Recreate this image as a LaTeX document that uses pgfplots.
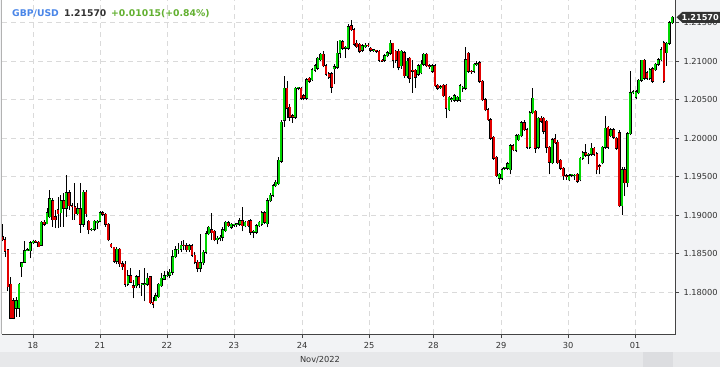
\documentclass[border=0pt]{standalone}
\usepackage{pgfplots}
\pgfplotsset{compat=1.18}
\usepackage{pgfplotstable}
\usepackage{fontspec}
\setmainfont{DejaVu Sans}
\definecolor{cgreen}{RGB}{0,214,0}
\definecolor{cred}{RGB}{226,0,0}
\definecolor{bgray}{HTML}{F2F3F5}
\definecolor{bandgray}{HTML}{E7E8EA}
\definecolor{thumbgray}{HTML}{DCDDE0}
\definecolor{gridgray}{HTML}{DADADA}
\definecolor{axisgray}{HTML}{444444}
\definecolor{txtgray}{HTML}{333333}
\definecolor{titleblue}{HTML}{4A86E8}
\definecolor{titlegreen}{HTML}{62B030}
\definecolor{tagdark}{HTML}{333333}

\pgfplotstableread{
k o h l c
-11 1.1872 1.1888 1.1866 1.1868
-10 1.1868 1.1872 1.1846 1.1853
-9 1.1855 1.1856 1.1801 1.1807
-8 1.1810 1.1820 1.1765 1.1766
-7 1.1789 1.1792 1.1765 1.1766
-6 1.1779 1.1794 1.1768 1.1789
-5 1.1779 1.1812 1.1768 1.1810
-4 1.1833 1.1839 1.1820 1.1838
-3 1.1839 1.1866 1.1838 1.1854
-2 1.1854 1.1857 1.1853 1.1855
-1 1.1854 1.1866 1.1844 1.1864
0 1.1864 1.1868 1.1862 1.1866
1 1.1866 1.1868 1.1864 1.1865
2 1.1865 1.1866 1.1859 1.1859
3 1.1861 1.1892 1.1860 1.1891
4 1.1891 1.1894 1.1886 1.1888
5 1.1889 1.1909 1.1888 1.1903
6 1.1898 1.1933 1.1896 1.1921
7 1.1919 1.1922 1.1885 1.1894
8 1.1898 1.1907 1.1883 1.1894
9 1.1907 1.1924 1.1883 1.1902
10 1.1903 1.1926 1.1885 1.1919
11 1.1919 1.1929 1.1885 1.1909
12 1.1909 1.1952 1.1898 1.1929
13 1.1929 1.1933 1.1907 1.1912
14 1.1912 1.1916 1.1894 1.1911
15 1.1911 1.1942 1.1894 1.1902
16 1.1902 1.1916 1.1900 1.1908
17 1.1908 1.1942 1.1877 1.1888
18 1.1888 1.1933 1.1885 1.1930
19 1.1930 1.1933 1.1898 1.1902
20 1.1892 1.1894 1.1875 1.1881
21 1.1881 1.1883 1.1879 1.1882
22 1.1882 1.1894 1.1879 1.1892
23 1.1890 1.1894 1.1882 1.1892
24 1.1892 1.1905 1.1891 1.1903
25 1.1903 1.1905 1.1899 1.1901
26 1.1901 1.1903 1.1885 1.1888
27 1.1888 1.1890 1.1866 1.1868
28 1.1862 1.1864 1.1857 1.1859
29 1.1858 1.1859 1.1838 1.1840
30 1.1840 1.1859 1.1836 1.1856
31 1.1856 1.1857 1.1833 1.1837
32 1.1837 1.1840 1.1829 1.1833
33 1.1836 1.1840 1.1807 1.1810
34 1.1810 1.1829 1.1808 1.1821
35 1.1821 1.1831 1.1812 1.1813
36 1.1808 1.1816 1.1792 1.1806
37 1.1808 1.1822 1.1805 1.1820
38 1.1820 1.1829 1.1805 1.1810
39 1.1810 1.1812 1.1795 1.1811
40 1.1810 1.1831 1.1788 1.1811
41 1.1810 1.1825 1.1808 1.1818
42 1.1820 1.1821 1.1784 1.1786
43 1.1787 1.1794 1.1779 1.1784
44 1.1789 1.1799 1.1788 1.1795
45 1.1794 1.1812 1.1793 1.1810
46 1.1808 1.1825 1.1807 1.1818
47 1.1817 1.1827 1.1816 1.1821
48 1.1821 1.1827 1.1820 1.1822
49 1.1822 1.1830 1.1818 1.1826
50 1.1826 1.1855 1.1822 1.1846
51 1.1846 1.1860 1.1844 1.1855
52 1.1855 1.1864 1.1850 1.1856
53 1.1856 1.1866 1.1852 1.1861
54 1.1861 1.1868 1.1855 1.1860
55 1.1860 1.1864 1.1852 1.1855
56 1.1855 1.1863 1.1852 1.1860
57 1.1860 1.1862 1.1846 1.1848
58 1.1848 1.1852 1.1836 1.1839
59 1.1839 1.1842 1.1826 1.1831
60 1.1831 1.1876 1.1826 1.1838
61 1.1838 1.1855 1.1835 1.1852
62 1.1852 1.1880 1.1850 1.1876
63 1.1876 1.1886 1.1874 1.1884
64 1.1881 1.1903 1.1868 1.1877
65 1.1879 1.1881 1.1866 1.1868
66 1.1868 1.1873 1.1862 1.1870
67 1.1870 1.1874 1.1866 1.1871
68 1.1871 1.1884 1.1866 1.1881
69 1.1880 1.1893 1.1878 1.1891
70 1.1890 1.1892 1.1884 1.1886
71 1.1884 1.1890 1.1882 1.1888
72 1.1887 1.1889 1.1885 1.1888
73 1.1888 1.1890 1.1885 1.1889
74 1.1888 1.1896 1.1886 1.1893
75 1.1893 1.1910 1.1879 1.1886
76 1.1886 1.1893 1.1884 1.1891
77 1.1892 1.1894 1.1884 1.1886
78 1.1893 1.1895 1.1874 1.1878
79 1.1878 1.1881 1.1870 1.1879
80 1.1878 1.1888 1.1876 1.1886
81 1.1886 1.1893 1.1884 1.1891
82 1.1888 1.1906 1.1886 1.1903
83 1.1903 1.1905 1.1889 1.1891
84 1.1889 1.1922 1.1884 1.1919
85 1.1919 1.1929 1.1917 1.1926
86 1.1926 1.1940 1.1924 1.1938
87 1.1938 1.1946 1.1936 1.1943
88 1.1941 1.1975 1.1939 1.1971
89 1.1970 1.2024 1.1968 1.2021
90 1.2023 1.2081 1.2015 1.2065
91 1.2065 1.2074 1.2026 1.2039
92 1.2040 1.2045 1.2022 1.2027
93 1.2029 1.2032 1.2020 1.2027
94 1.2027 1.2067 1.2025 1.2065
95 1.2065 1.2067 1.2062 1.2066
96 1.2065 1.2067 1.2050 1.2052
97 1.2055 1.2058 1.2049 1.2052
98 1.2052 1.2078 1.2050 1.2076
99 1.2078 1.2080 1.2072 1.2074
100 1.2076 1.2091 1.2074 1.2089
101 1.2088 1.2096 1.2086 1.2094
102 1.2091 1.2106 1.2089 1.2104
103 1.2102 1.2111 1.2100 1.2109
104 1.2109 1.2113 1.2092 1.2094
105 1.2094 1.2096 1.2081 1.2083
106 1.2084 1.2086 1.2077 1.2079
107 1.2084 1.2086 1.2059 1.2066
108 1.2090 1.2096 1.2070 1.2093
109 1.2092 1.2126 1.2090 1.2110
110 1.2110 1.2128 1.2104 1.2127
111 1.2125 1.2127 1.2115 1.2117
112 1.2117 1.2120 1.2104 1.2118
113 1.2117 1.2148 1.2115 1.2145
114 1.2146 1.2153 1.2139 1.2141
115 1.2141 1.2143 1.2120 1.2122
116 1.2123 1.2128 1.2117 1.2119
117 1.2122 1.2124 1.2110 1.2113
118 1.2114 1.2122 1.2112 1.2120
119 1.2119 1.2123 1.2117 1.2121
120 1.2121 1.2123 1.2118 1.2120
121 1.2117 1.2119 1.2112 1.2114
122 1.2114 1.2116 1.2112 1.2115
123 1.2114 1.2115 1.2111 1.2113
124 1.2113 1.2115 1.2099 1.2101
125 1.2101 1.2103 1.2099 1.2100
126 1.2101 1.2109 1.2099 1.2107
127 1.2107 1.2113 1.2105 1.2111
128 1.2110 1.2128 1.2108 1.2123
129 1.2123 1.2124 1.2091 1.2101
130 1.2113 1.2115 1.2098 1.2101
131 1.2113 1.2116 1.2088 1.2092
132 1.2094 1.2115 1.2090 1.2113
133 1.2111 1.2113 1.2078 1.2081
134 1.2081 1.2104 1.2078 1.2100
135 1.2104 1.2106 1.2072 1.2078
136 1.2088 1.2102 1.2059 1.2087
137 1.2088 1.2090 1.2065 1.2079
138 1.2083 1.2096 1.2081 1.2094
139 1.2085 1.2102 1.2083 1.2096
140 1.2096 1.2111 1.2094 1.2109
141 1.2109 1.2111 1.2092 1.2094
142 1.2094 1.2096 1.2090 1.2093
143 1.2087 1.2096 1.2085 1.2094
144 1.2094 1.2096 1.2066 1.2068
145 1.2069 1.2071 1.2063 1.2065
146 1.2066 1.2069 1.2064 1.2067
147 1.2069 1.2071 1.2053 1.2055
148 1.2069 1.2071 1.2026 1.2039
149 1.2037 1.2055 1.2035 1.2053
150 1.2050 1.2053 1.2047 1.2051
151 1.2049 1.2057 1.2047 1.2055
152 1.2049 1.2055 1.2047 1.2053
153 1.2049 1.2070 1.2047 1.2068
154 1.2065 1.2068 1.2060 1.2066
155 1.2065 1.2118 1.2063 1.2102
156 1.2110 1.2112 1.2085 1.2087
157 1.2087 1.2089 1.2084 1.2086
158 1.2087 1.2098 1.2085 1.2096
159 1.2096 1.2100 1.2094 1.2097
160 1.2098 1.2100 1.2072 1.2074
161 1.2074 1.2076 1.2048 1.2050
162 1.2050 1.2052 1.2035 1.2037
163 1.2037 1.2039 1.2022 1.2024
164 1.2024 1.2026 1.1998 1.2000
165 1.2001 1.2003 1.1972 1.1974
166 1.1975 1.1977 1.1949 1.1951
167 1.1948 1.1955 1.1940 1.1953
168 1.1948 1.1961 1.1946 1.1959
169 1.1961 1.1963 1.1959 1.1962
170 1.1961 1.1969 1.1959 1.1967
171 1.1959 1.1992 1.1953 1.1990
172 1.1990 1.1993 1.1983 1.1985
173 1.1984 1.2005 1.1982 1.2003
174 1.1998 1.2006 1.1996 1.2004
175 1.2003 1.2022 1.2001 1.2020
176 1.2020 1.2023 1.2009 1.2011
177 1.2011 1.2013 1.1986 1.1988
178 1.1988 1.2035 1.1986 1.2033
179 1.2033 1.2065 1.2031 1.2052
180 1.2035 1.2037 1.1981 1.1987
181 1.1988 1.2028 1.1986 1.2026
182 1.2026 1.2029 1.2020 1.2022
183 1.2026 1.2028 1.2005 1.2009
184 1.2022 1.2024 1.1981 1.1988
185 1.1988 1.1990 1.1953 1.1969
186 1.1968 1.2000 1.1966 1.1998
187 1.1999 1.2005 1.1992 1.1994
188 1.1995 1.1997 1.1966 1.1968
189 1.1971 1.1973 1.1959 1.1961
190 1.1961 1.1963 1.1946 1.1951
191 1.1951 1.1953 1.1946 1.1950
192 1.1946 1.1953 1.1944 1.1951
193 1.1952 1.1954 1.1949 1.1953
194 1.1951 1.1954 1.1946 1.1952
195 1.1953 1.1955 1.1942 1.1944
196 1.1946 1.1976 1.1944 1.1974
197 1.1974 1.1983 1.1972 1.1981
198 1.1981 1.1992 1.1976 1.1978
199 1.1978 1.1981 1.1966 1.1979
200 1.1979 1.1994 1.1977 1.1987
201 1.1987 1.1989 1.1977 1.1979
202 1.1980 1.1982 1.1953 1.1959
203 1.1964 1.1966 1.1953 1.1963
204 1.1968 1.1990 1.1966 1.1988
205 1.1988 1.2029 1.1986 1.2013
206 1.2014 1.2016 1.1986 1.1988
207 1.2003 1.2013 1.2001 1.2011
208 1.2011 1.2013 1.1999 1.2001
209 1.2000 1.2002 1.1985 1.1987
210 1.2007 1.2010 1.1910 1.1912
211 1.1912 1.1962 1.1900 1.1959
212 1.1959 1.1962 1.1925 1.1942
213 1.1942 1.2008 1.1936 1.2006
214 1.2006 1.2087 1.2004 1.2059
215 1.2059 1.2062 1.2057 1.2060
216 1.2053 1.2063 1.2051 1.2060
217 1.2059 1.2077 1.2057 1.2075
218 1.2075 1.2102 1.2073 1.2101
219 1.2101 1.2103 1.2076 1.2078
220 1.2085 1.2087 1.2076 1.2078
221 1.2078 1.2091 1.2076 1.2089
222 1.2090 1.2092 1.2072 1.2074
223 1.2089 1.2098 1.2087 1.2096
224 1.2096 1.2104 1.2094 1.2102
225 1.2102 1.2118 1.2100 1.2115
226 1.2124 1.2126 1.2072 1.2074
227 1.2111 1.2125 1.2094 1.2123
228 1.2123 1.2152 1.2121 1.2150
229 1.2150 1.2159 1.2148 1.2157
}\candles

\begin{document}
\begin{tikzpicture}[x=1bp,y=1bp]
\useasboundingbox (0,0) rectangle (720,367);
\fill[bgray] (0,0) rectangle (720,367);
\fill[bandgray] (0,0) rectangle (720,15);
\fill[thumbgray] (643,0) rectangle (673,15);
\begin{axis}[
  at={(2bp,33bp)}, anchor=south west,
  scale only axis, width=673bp, height=334bp,
  xmin=-11.1, xmax=230, ymin=1.17456, ymax=1.21795,
  axis background/.style={fill=white},
  axis line style={draw=none},
  xtick={0,24,48,72,96.4,120.4,143.4,167.7,191.7,215.7},
  xticklabels={18,21,22,23,24,25,28,29,30,01},
  ytick={1.18,1.185,1.19,1.195,1.2,1.205,1.21,1.215},
  scaled y ticks=false,
  yticklabel={\pgfmathprintnumber[fixed,fixed zerofill,precision=5,assume math mode=true]{\tick}},
  xtick pos=bottom, ytick pos=right,
  yticklabel pos=right,
  tick align=outside,
  major tick length=4bp,
  tick style={axisgray, line width=0.8bp},
  grid=major,
  major grid style={gridgray, dash pattern=on 5bp off 4bp, line width=0.8bp},
  ticklabel style={font=\fontsize{8.3}{10}\selectfont, text=txtgray},
  yticklabel style={anchor=west, xshift=1bp},
  xticklabel style={yshift=-0.5bp},
  colormap={updown}{color(0)=(cred) color(1)=(cgreen)},
  point meta min=0, point meta max=1,
]
\addplot[black, line width=0.8bp, no markers,
  quiver={u=0, v=\thisrow{h}-\thisrow{l}}]
  table[x=k, y=l] {\candles};
\addplot[black, line width=2.7bp, no markers,
  quiver={u=0, v=\thisrow{c}-\thisrow{o},
    every arrow/.append style={shorten <=-0.5bp, shorten >=-0.5bp}}]
  table[x=k, y=o] {\candles};
\addplot[line width=2.0bp, no markers,
  point meta={\thisrow{c}>\thisrow{o} ? 1 : 0},
  quiver={u=0, v=\thisrow{c}-\thisrow{o}, colored}]
  table[x=k, y=o] {\candles};
\end{axis}
\draw[axisgray, line width=1bp] (2,33) -- (675,33) -- (675,367);
\draw[gray!60, line width=1bp] (1.5,33) -- (1.5,367);
% price tag
\fill[tagdark] (676.5,349.7) -- (682.5,355.2) -- (720,355.2) -- (720,344.2) -- (682.5,344.2) -- cycle;
\node[anchor=east, inner sep=0, text=white, font=\bfseries\fontsize{8.2}{10}\selectfont] at (719,349.7) {1.21570};
% title
\node[anchor=base west, inner sep=0, text=titleblue, font=\bfseries\fontsize{9.3}{11}\selectfont] at (12,350.5) {GBP/USD};
\node[anchor=base west, inner sep=0, text=txtgray, font=\bfseries\fontsize{9.3}{11}\selectfont] at (64,350.5) {1.21570};
\node[anchor=base west, inner sep=0, text=titlegreen, font=\bfseries\fontsize{9.3}{11}\selectfont] at (111,350.5) {+0.01015(+0.84\%)};
\node[anchor=center, inner sep=0, text=txtgray, font=\fontsize{8.3}{10}\selectfont] at (320,7) {Nov/2022};
\end{tikzpicture}
\end{document}
